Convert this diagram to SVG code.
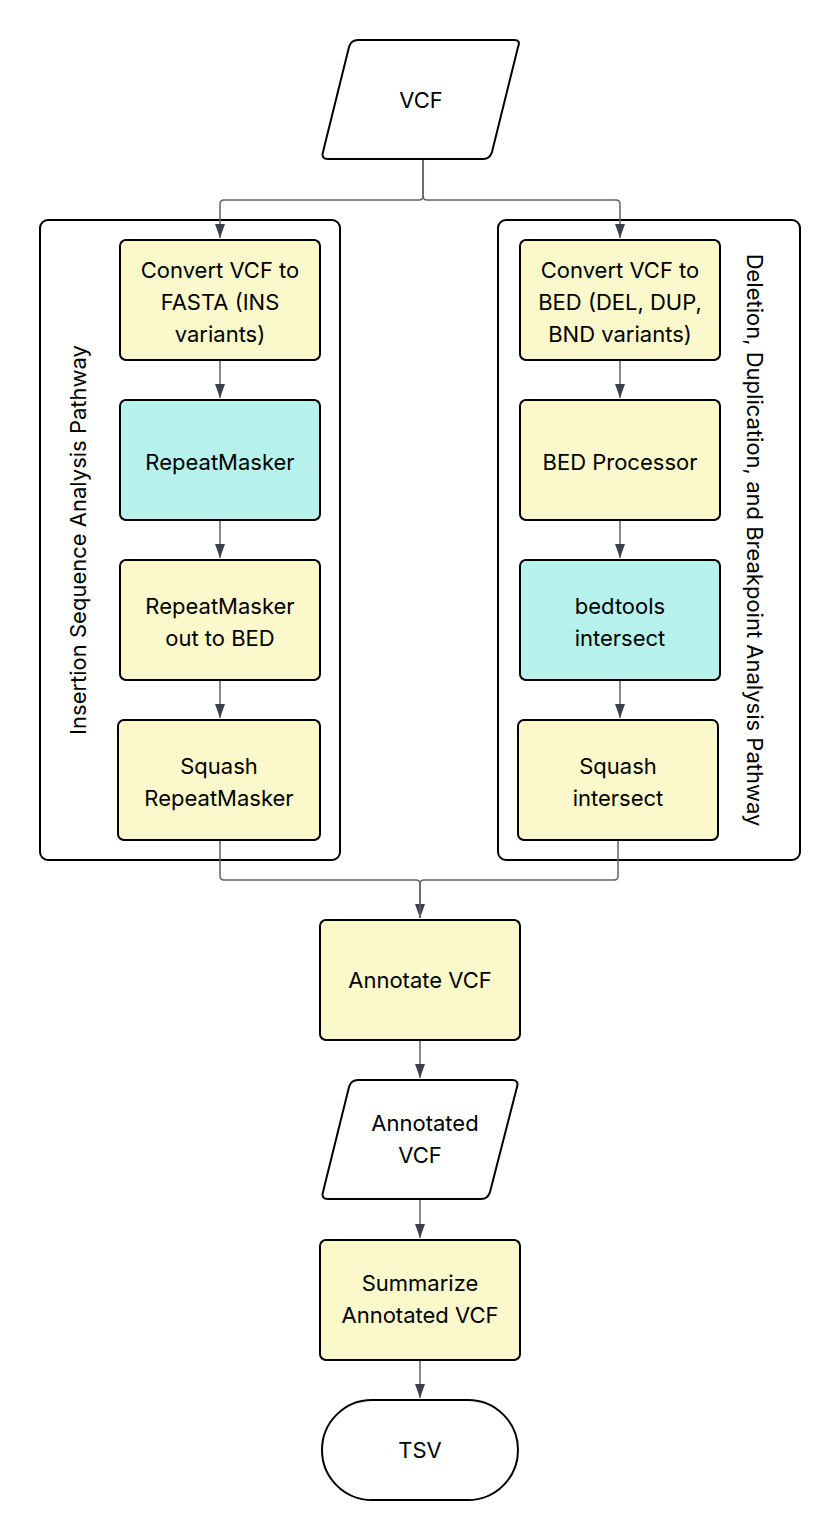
<svg xmlns="http://www.w3.org/2000/svg" width="840" height="1540" viewBox="0 0 840 1540">
<style>
.bg{fill:#ffffff}
.cl{fill:none;stroke:#000;stroke-width:2}
.y{fill:#fbf9cb;stroke:#000;stroke-width:2}
.c{fill:#b6f2eb;stroke:#000;stroke-width:2}
.w{fill:#ffffff;stroke:#000;stroke-width:2}
.e{fill:none;stroke:#5d636f;stroke-width:1.5}
text{font-family:Inter,"Liberation Sans",sans-serif;font-size:22px;fill:#000;text-anchor:middle}
</style>
<defs>
<marker id="ad" viewBox="0 0 10 14" refX="5" refY="14" markerWidth="10" markerHeight="14" markerUnits="userSpaceOnUse" orient="0">
<path d="M0,0 L10,0 L5,14 Z" fill="#3b3f4a"/>
</marker>
</defs>
<rect class="bg" x="0" y="0" width="840" height="1540"/>

<g id="cluster-ins">
<rect class="cl" x="40" y="220" width="300" height="640" rx="8"/>
<text transform="translate(86,540) rotate(-90)">Insertion Sequence Analysis Pathway</text>
</g>
<g id="cluster-del">
<rect class="cl" x="498" y="220" width="302" height="640" rx="8"/>
<text transform="translate(747,540) rotate(90)">Deletion, Duplication, and Breakpoint Analysis Pathway</text>
</g>

<g id="connectors">
<path class="e" d="M423,160 V196 Q423,200 419,200 H224 Q220,200 220,204 V238" marker-end="url(#ad)"/>
<path class="e" d="M423,160 V196 Q423,200 427,200 H616 Q620,200 620,204 V238" marker-end="url(#ad)"/>
<path class="e" d="M220,360 V398" marker-end="url(#ad)"/>
<path class="e" d="M220,520 V558" marker-end="url(#ad)"/>
<path class="e" d="M220,680 V718" marker-end="url(#ad)"/>
<path class="e" d="M620,360 V398" marker-end="url(#ad)"/>
<path class="e" d="M620,520 V558" marker-end="url(#ad)"/>
<path class="e" d="M620,680 V718" marker-end="url(#ad)"/>
<path class="e" d="M220,840 V876 Q220,880 224,880 H416 Q420,880 420,884 V918" marker-end="url(#ad)"/>
<path class="e" d="M618,840 V876 Q618,880 614,880 H424 Q420,880 420,884 V918"/>
<path class="e" d="M420,1040 V1078" marker-end="url(#ad)"/>
<path class="e" d="M420,1200 V1238" marker-end="url(#ad)"/>
<path class="e" d="M420,1360 V1398" marker-end="url(#ad)"/>
</g>

<g id="vcf">
<path class="w" d="M358,40 H514 Q521,40 518,47 L492,152 Q490,159 483,159 H328 Q321,159 323,152 L349,47 Q351,40 358,40 Z"/>
<text x="421" y="108">VCF</text>
</g>

<g id="ins1">
<rect class="y" x="120" y="240" width="200" height="120" rx="6"/>
<text x="220" y="278">Convert VCF to</text>
<text x="220" y="310">FASTA (INS</text>
<text x="220" y="342">variants)</text>
</g>
<g id="ins2">
<rect class="c" x="120" y="400" width="200" height="120" rx="6"/>
<text x="220" y="470">RepeatMasker</text>
</g>
<g id="ins3">
<rect class="y" x="120" y="560" width="200" height="120" rx="6"/>
<text x="220" y="614">RepeatMasker</text>
<text x="220" y="646">out to BED</text>
</g>
<g id="ins4">
<rect class="y" x="118" y="720" width="202" height="120" rx="6"/>
<text x="219" y="774">Squash</text>
<text x="219" y="806">RepeatMasker</text>
</g>

<g id="del1">
<rect class="y" x="520" y="240" width="200" height="120" rx="6"/>
<text x="620" y="278">Convert VCF to</text>
<text x="620" y="310">BED (DEL, DUP,</text>
<text x="620" y="342">BND variants)</text>
</g>
<g id="del2">
<rect class="y" x="520" y="400" width="200" height="120" rx="6"/>
<text x="620" y="470">BED Processor</text>
</g>
<g id="del3">
<rect class="c" x="520" y="560" width="200" height="120" rx="6"/>
<text x="620" y="614">bedtools</text>
<text x="620" y="646">intersect</text>
</g>
<g id="del4">
<rect class="y" x="518" y="720" width="200" height="120" rx="6"/>
<text x="618" y="774">Squash</text>
<text x="618" y="806">intersect</text>
</g>

<g id="annotate">
<rect class="y" x="320" y="920" width="200" height="120" rx="6"/>
<text x="420" y="988">Annotate VCF</text>
</g>
<g id="annotated">
<path class="w" d="M358,1080 H512 Q519,1080 517,1087 L490,1192 Q488,1199 481,1199 H328 Q321,1199 323,1192 L349,1087 Q351,1080 358,1080 Z"/>
<text x="425" y="1131">Annotated</text>
<text x="420" y="1163">VCF</text>
</g>
<g id="summarize">
<rect class="y" x="320" y="1240" width="200" height="120" rx="6"/>
<text x="420" y="1291">Summarize</text>
<text x="420" y="1323">Annotated VCF</text>
</g>
<g id="tsv">
<rect class="w" x="322" y="1400" width="196" height="100" rx="50"/>
<text x="420" y="1458">TSV</text>
</g>
</svg>
